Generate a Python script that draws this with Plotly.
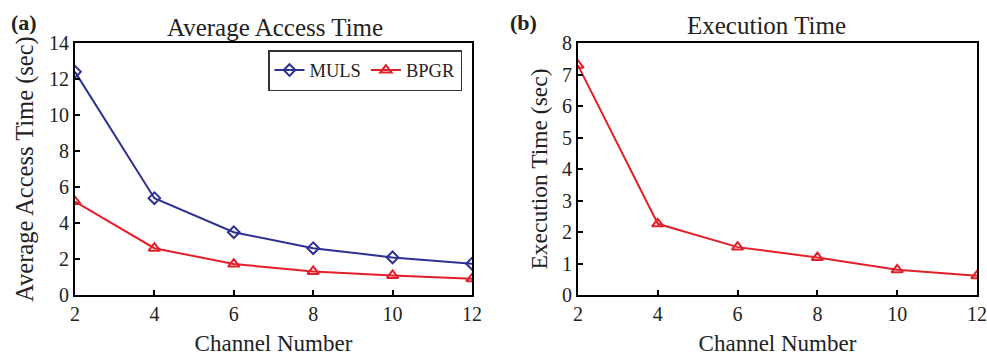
import plotly.graph_objects as go

channels = [2, 4, 6, 8, 10, 12]
muls_access = [12.4, 5.38, 3.49, 2.6, 2.09, 1.74]
bpgr_access = [5.19, 2.6, 1.72, 1.31, 1.09, 0.9]
bpgr_exec = [7.29, 2.26, 1.52, 1.19, 0.80, 0.61]

FONT = "Liberation Serif"
BLUE = "#2e3192"
RED = "#e3202a"
TXT = "#222"

W, H = 987, 356


def px(x):
    return x / W


def py(y):
    return 1 - y / H


fig = go.Figure()
fig.add_trace(go.Scatter(x=channels, y=muls_access, name="MULS", mode="lines+markers",
                         line=dict(color=BLUE, width=2),
                         marker=dict(symbol="diamond-open", size=9, color=BLUE, line=dict(width=2)),
                         xaxis="x", yaxis="y"))
fig.add_trace(go.Scatter(x=channels, y=bpgr_access, name="BPGR", mode="lines+markers",
                         line=dict(color=RED, width=2),
                         marker=dict(symbol="triangle-up-open", size=10, color=RED, line=dict(width=2)),
                         xaxis="x", yaxis="y"))
fig.add_trace(go.Scatter(x=channels, y=bpgr_exec, name="BPGR", mode="lines+markers", showlegend=False,
                         line=dict(color=RED, width=2),
                         marker=dict(symbol="triangle-up-open", size=10, color=RED, line=dict(width=2)),
                         xaxis="x2", yaxis="y2"))

axis_common = dict(showline=True, linecolor="black", linewidth=2, mirror=True,
                   ticks="inside", ticklen=5, tickcolor="black", tickwidth=1.5,
                   showgrid=False, zeroline=False, automargin=False,
                   ticklabeloverflow="allow",
                   tickfont=dict(family=FONT, size=20, color=TXT))

ydom = [py(295), py(43)]
xt_font = dict(family=FONT, size=23, color=TXT)
fig.update_layout(
    width=W, height=H,
    margin=dict(l=0, r=0, t=0, b=0, autoexpand=False),
    paper_bgcolor="white", plot_bgcolor="white",
    showlegend=True,
    legend=dict(x=px(462), y=py(50), xanchor="right", yanchor="top", orientation="h",
                bordercolor="#333", borderwidth=1.5, bgcolor="white",
                font=dict(family=FONT, size=18.5, color=TXT),
                itemwidth=30, tracegroupgap=0),
    xaxis=dict(domain=[px(75), px(472)], range=[2, 12], tickvals=channels,
               title=dict(text="Channel Number", standoff=14, font=xt_font), anchor="y", **axis_common),
    yaxis=dict(domain=ydom, range=[0, 14], tickvals=list(range(0, 15, 2)),
               title=dict(text="Average Access Time (sec)", standoff=8,
                          font=dict(family=FONT, size=24.5, color=TXT)), anchor="x", **axis_common),
    xaxis2=dict(domain=[px(578), px(977)], range=[2, 12], tickvals=channels,
                title=dict(text="Channel Number", standoff=14, font=xt_font), anchor="y2", **axis_common),
    yaxis2=dict(domain=ydom, range=[0, 8], tickvals=list(range(0, 9)),
                title=dict(text="Execution Time (sec)", standoff=8,
                           font=dict(family=FONT, size=23.5, color=TXT)), anchor="x2", **axis_common),
    annotations=[
        dict(text="Average Access Time", x=px(275), y=py(27), xref="paper", yref="paper",
             xanchor="center", showarrow=False, font=dict(family=FONT, size=25, color=TXT), yanchor="middle"),
        dict(text="Execution Time", x=px(766), y=py(26), xref="paper", yref="paper",
             xanchor="center", showarrow=False, font=dict(family=FONT, size=25, color=TXT), yanchor="middle"),
        dict(text="<b>(a)</b>", x=px(9), y=py(22), xref="paper", yref="paper", xanchor="left",
             showarrow=False, font=dict(family=FONT, size=22, color=TXT), yanchor="middle"),
        dict(text="<b>(b)</b>", x=px(508), y=py(22), xref="paper", yref="paper", xanchor="left",
             showarrow=False, font=dict(family=FONT, size=22, color=TXT), yanchor="middle"),
    ],
)

fig.write_html("out.html", config={"displayModeBar": False},
               post_script="document.body.style.margin='0';document.body.style.overflow='hidden';")
